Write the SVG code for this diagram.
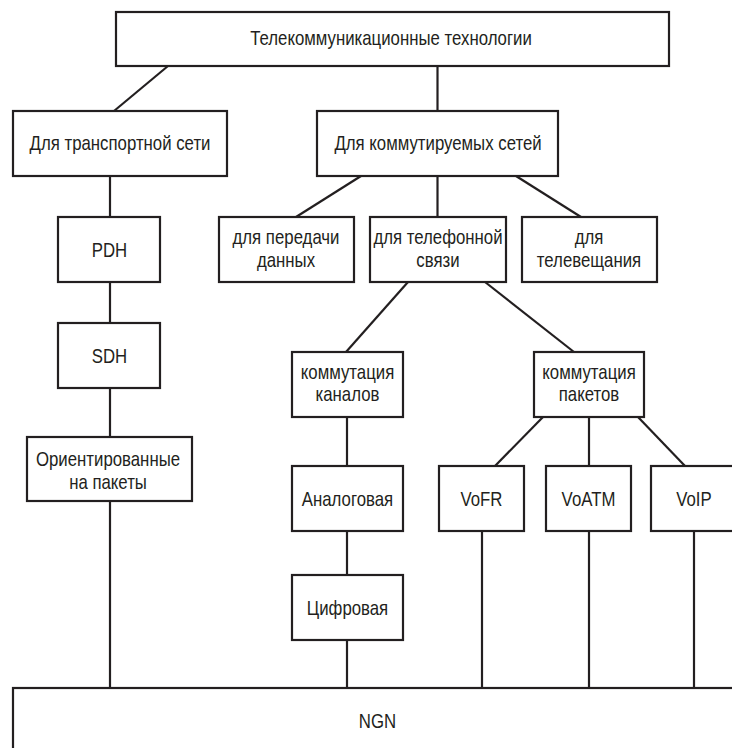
<svg xmlns="http://www.w3.org/2000/svg" width="732" height="748" viewBox="0 0 732 748">
  <style>
    .box { fill: #ffffff; stroke: #231f20; stroke-width: 2.2; }
    .link { stroke: #231f20; stroke-width: 2.2; fill: none; }
    text { font-family: "Liberation Sans", Arial, sans-serif; font-size: 20px; fill: #231f20; text-anchor: middle; }
  </style>
  <rect width="732" height="748" fill="#ffffff"/>

  <!-- connectors -->
  <g id="connectors" class="link">
    <line x1="168" y1="66" x2="114" y2="111"/>
    <line x1="437.5" y1="66" x2="437.5" y2="111"/>
    <line x1="110" y1="176" x2="110" y2="217"/>
    <line x1="110" y1="282" x2="110" y2="323"/>
    <line x1="110" y1="388" x2="110" y2="437"/>
    <line x1="110" y1="501" x2="110" y2="688"/>
    <line x1="361" y1="176" x2="296" y2="217"/>
    <line x1="437.5" y1="176" x2="437.5" y2="217"/>
    <line x1="516" y1="176" x2="581" y2="217"/>
    <line x1="408" y1="282" x2="346" y2="352"/>
    <line x1="485" y1="282" x2="574" y2="352"/>
    <line x1="347" y1="417" x2="347" y2="466"/>
    <line x1="347" y1="531" x2="347" y2="575"/>
    <line x1="347" y1="640" x2="347" y2="688"/>
    <line x1="543" y1="417" x2="495" y2="466"/>
    <line x1="589" y1="417" x2="589" y2="466"/>
    <line x1="638" y1="417" x2="685" y2="466"/>
    <line x1="482" y1="531" x2="482" y2="688"/>
    <line x1="589" y1="531" x2="589" y2="688"/>
    <line x1="694" y1="531" x2="694" y2="688"/>
  </g>

  <!-- labels use a horizontally condensed sans -->
  <g id="telecom">
    <rect class="box" x="116" y="12" width="553" height="54"/>
    <text transform="translate(391 45) scale(0.84 1)">Телекоммуникационные технологии</text>
  </g>
  <g id="transport">
    <rect class="box" x="13" y="111" width="214" height="65"/>
    <text transform="translate(120 150) scale(0.84 1)">Для транспортной сети</text>
  </g>
  <g id="switched">
    <rect class="box" x="317" y="111" width="241" height="65"/>
    <text transform="translate(438 150) scale(0.84 1)">Для коммутируемых сетей</text>
  </g>
  <g id="pdh">
    <rect class="box" x="58" y="217" width="102" height="65"/>
    <text transform="translate(109.5 257) scale(0.84 1)">PDH</text>
  </g>
  <g id="sdh">
    <rect class="box" x="58" y="323" width="102" height="65"/>
    <text transform="translate(109.5 363) scale(0.84 1)">SDH</text>
  </g>
  <g id="packet-oriented">
    <rect class="box" x="27" y="437" width="165" height="64"/>
    <text transform="translate(108 465.5) scale(0.84 1)">Ориентированные</text>
    <text transform="translate(108 488.5) scale(0.84 1)">на пакеты</text>
  </g>
  <g id="data">
    <rect class="box" x="219" y="217" width="135" height="65"/>
    <text transform="translate(286 244) scale(0.84 1)">для передачи</text>
    <text transform="translate(286 267) scale(0.84 1)">данных</text>
  </g>
  <g id="telephony">
    <rect class="box" x="370" y="217" width="136" height="65"/>
    <text transform="translate(438 244) scale(0.84 1)">для телефонной</text>
    <text transform="translate(438 267) scale(0.84 1)">связи</text>
  </g>
  <g id="broadcast">
    <rect class="box" x="522" y="217" width="135" height="65"/>
    <text transform="translate(589 244) scale(0.84 1)">для</text>
    <text transform="translate(589 267) scale(0.84 1)">телевещания</text>
  </g>
  <g id="circuit-switching">
    <rect class="box" x="292" y="352" width="111" height="65"/>
    <text transform="translate(347.5 378.5) scale(0.84 1)">коммутация</text>
    <text transform="translate(347.5 401) scale(0.84 1)">каналов</text>
  </g>
  <g id="packet-switching">
    <rect class="box" x="534" y="352" width="110" height="65"/>
    <text transform="translate(589 378.5) scale(0.84 1)">коммутация</text>
    <text transform="translate(589 401) scale(0.84 1)">пакетов</text>
  </g>
  <g id="analog">
    <rect class="box" x="292" y="466" width="111" height="65"/>
    <text transform="translate(347.5 506) scale(0.84 1)">Аналоговая</text>
  </g>
  <g id="digital">
    <rect class="box" x="292" y="575" width="111" height="65"/>
    <text transform="translate(347.5 615) scale(0.84 1)">Цифровая</text>
  </g>
  <g id="vofr">
    <rect class="box" x="439" y="466" width="85" height="65"/>
    <text transform="translate(481.5 506) scale(0.84 1)">VoFR</text>
  </g>
  <g id="voatm">
    <rect class="box" x="546" y="466" width="85" height="65"/>
    <text transform="translate(588.5 506) scale(0.84 1)">VoATM</text>
  </g>
  <g id="voip">
    <rect class="box" x="651" y="466" width="86" height="65"/>
    <text transform="translate(694 506) scale(0.84 1)">VoIP</text>
  </g>
  <g id="ngn">
    <rect class="box" x="13" y="688" width="740" height="80"/>
    <text transform="translate(377.5 728) scale(0.84 1)">NGN</text>
  </g>
</svg>
